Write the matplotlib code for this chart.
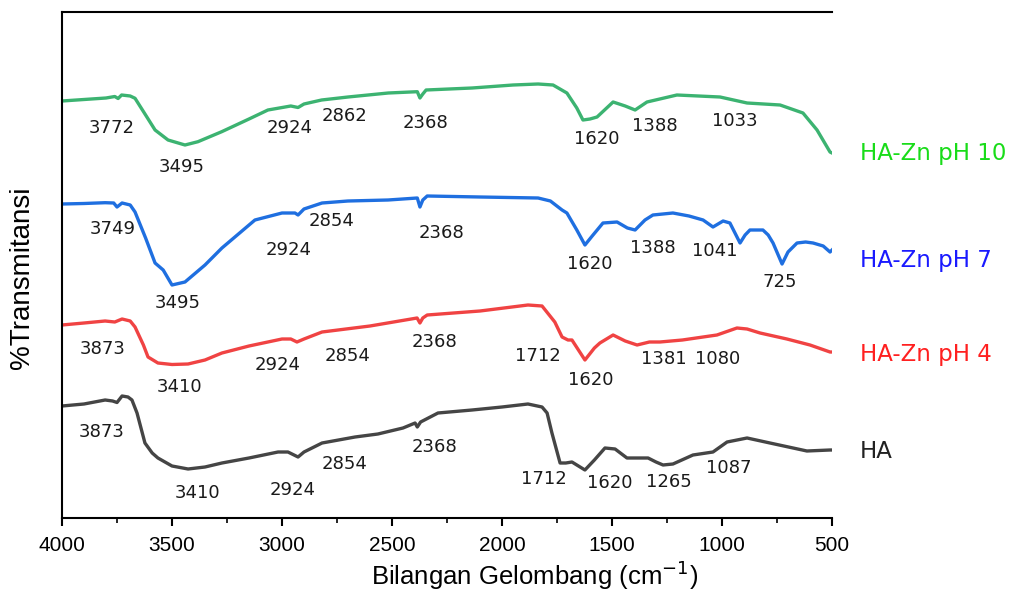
import matplotlib
matplotlib.use("Agg")
import matplotlib.pyplot as plt
from matplotlib.ticker import MultipleLocator

# ---- data (wavenumber cm^-1, transmittance a.u. with vertical offset) ----
wn_pH10 = [4000, 3900, 3800, 3760, 3745, 3729, 3690, 3668, 3620, 3577, 3518, 3441, 3382, 3274,
           3150, 3064, 2960, 2927, 2900, 2820, 2700, 2517, 2385, 2373, 2360, 2345, 2136, 1950,
           1836, 1768, 1705, 1660, 1632, 1600, 1568, 1495, 1440, 1395, 1341, 1205, 1009, 886,
           736, 632, 568, 509, 500]
t_pH10 = [417, 418.5, 420, 421.5, 419.5, 423, 422, 419.7, 403, 388, 378, 373, 376.3, 386.3,
          399, 408, 412, 410.5, 414, 418, 421, 425, 426.3, 420, 424, 428, 430, 433,
          434, 433, 425, 410, 398, 399, 401, 416, 412, 408, 416, 423, 421, 415,
          413, 405, 388, 366, 365]

wn_pH7 = [4000, 3900, 3804, 3765, 3750, 3727, 3690, 3668, 3620, 3577, 3540, 3500, 3441, 3350,
          3273, 3123, 3000, 2941, 2927, 2900, 2818, 2700, 2518, 2385, 2373, 2360, 2340, 2100,
          1836, 1780, 1727, 1705, 1660, 1623, 1590, 1541, 1477, 1430, 1395, 1350, 1314, 1223,
          1150, 1086, 1041, 995, 964, 918, 895, 873, 814, 790, 768, 727, 700, 659, 620, 586,
          540, 509, 500]
t_pH7 = [314, 314.5, 315.3, 315, 311, 315, 313, 306, 280, 255, 248, 233, 236, 253,
         270, 298, 305, 305, 303, 309, 315, 317, 318, 320, 311, 318, 322, 321,
         320, 317, 308, 305, 288, 273, 282, 295, 296, 290, 288, 298, 303, 305,
         302, 298, 291, 297, 295, 275, 283, 288, 288, 283, 275, 254, 266, 275, 276, 275,
         272, 266, 268]

wn_pH4 = [4000, 3900, 3804, 3760, 3727, 3690, 3668, 3630, 3609, 3564, 3500, 3427, 3350, 3273,
          3150, 3000, 2960, 2932, 2900, 2818, 2600, 2386, 2373, 2360, 2340, 2100, 1882, 1818,
          1760, 1727, 1700, 1682, 1623, 1580, 1555, 1495, 1440, 1386, 1330, 1282, 1180, 1086,
          1023, 932, 886, 827, 705, 600, 509, 500]
t_pH4 = [193, 195, 197, 196, 199, 197, 191, 173, 161, 155, 153.5, 154, 158, 165,
         172, 179, 179, 176, 179, 186, 192, 200, 195, 200, 203, 207, 213, 212,
         196, 181, 178, 178, 158, 170, 175, 183, 177, 173, 176, 176, 178, 181,
         183, 190, 189, 185, 179, 173, 166, 166]

wn_HA = [4000, 3900, 3804, 3770, 3750, 3727, 3700, 3682, 3659, 3623, 3590, 3564, 3500, 3427,
         3350, 3273, 3150, 3018, 2973, 2927, 2900, 2818, 2668, 2564, 2450, 2395, 2385, 2370,
         2291, 2136, 2000, 1882, 1818, 1795, 1773, 1736, 1710, 1682, 1623, 1580, 1532, 1486,
         1432, 1336, 1300, 1268, 1223, 1132, 1041, 977, 886, 782, 614, 509, 500]
t_HA = [112, 114, 118, 117, 115.5, 122, 121, 118, 105, 75, 65, 60, 52, 49,
        51, 55, 60, 66, 66, 61, 66, 75, 81, 84, 90, 95, 91, 96,
        105, 108, 111, 114, 111, 105, 85, 55, 55, 56, 48, 58, 70, 69,
        60, 60, 56, 53, 54, 63, 66, 76, 80, 75, 67, 68, 68]

# peak labels: (text, wavenumber position, y position)
peaks_pH10 = [("3772", 3773, 390), ("3495", 3455, 351), ("2924", 2964, 390), ("2862", 2714, 402),
              ("2368", 2350, 395), ("1620", 1568, 379), ("1388", 1305, 392), ("1033", 941, 397)]
peaks_pH7 = [("3749", 3768, 289), ("3495", 3473, 215), ("2924", 2968, 268), ("2854", 2773, 297),
             ("2368", 2277, 285), ("1620", 1600, 254), ("1388", 1314, 270), ("1041", 1032, 267),
             ("725", 736, 236)]
peaks_pH4 = [("3873", 3814, 169), ("3410", 3464, 131), ("2924", 3018, 153), ("2854", 2700, 162),
             ("2368", 2309, 176), ("1712", 1836, 162), ("1620", 1595, 138), ("1381", 1264, 159),
             ("1080", 1018, 159)]
peaks_HA = [("3873", 3818, 86), ("3410", 3382, 25), ("2924", 2950, 28), ("2854", 2714, 54),
            ("2368", 2309, 71), ("1712", 1809, 39), ("1620", 1509, 35), ("1265", 1241, 36),
            ("1087", 968, 50)]

series_names = ["HA-Zn pH 10", "HA-Zn pH 7", "HA-Zn pH 4", "HA"]
label_y = [365, 258, 163, 66]

# ---- styling ----
line_colors = ["#3cb371", "#1f6fe0", "#f04343", "#454545"]
label_colors = ["#19dc19", "#1a1aff", "#ff2020", "#222222"]
wide = ["DejaVu Sans"]
sans = ["Liberation Sans", "DejaVu Sans"]

fig = plt.figure(figsize=(10.30, 5.91), dpi=100)
ax = fig.add_axes([62 / 1030, 73 / 591, 770 / 1030, 506 / 591])

data = [(wn_pH10, t_pH10, peaks_pH10), (wn_pH7, t_pH7, peaks_pH7),
        (wn_pH4, t_pH4, peaks_pH4), (wn_HA, t_HA, peaks_HA)]

for (wn, t, peaks), lc, tc, name, ly in zip(data, line_colors, label_colors, series_names, label_y):
    ax.plot(wn, t, color=lc, lw=2.4, solid_joinstyle="round")
    for txt, px, py in peaks:
        ax.text(px, py, txt, ha="center", va="center", fontsize=13, family=wide, color="#1a1a1a")
    ax.text(373, ly, name, ha="left", va="center", fontsize=16.5, family=wide, color=tc,
            clip_on=False)

ax.set_xlim(4000, 500)
ax.set_ylim(0, 506)
ax.xaxis.set_major_locator(MultipleLocator(500))
ax.xaxis.set_minor_locator(MultipleLocator(250))
ax.set_yticks([])
ax.spines["right"].set_visible(False)
for s in ["left", "bottom", "top"]:
    ax.spines[s].set_linewidth(1.5)
ax.tick_params(axis="x", which="major", direction="out", length=6, width=1.5, pad=7)
ax.tick_params(axis="x", which="minor", direction="out", length=3.5, width=1.2)
for lab in ax.get_xticklabels():
    lab.set_family(sans)
    lab.set_fontsize(15)
fig.text(535 / 1030, 1 - 575 / 591, "Bilangan Gelombang (cm$^{-1}$)", fontsize=18.5,
         family=sans, ha="center", va="center")
fig.text(22 / 1030, 1 - 278 / 591, "%Transmitansi", fontsize=20, family=sans,
         ha="center", va="center", rotation=90)

fig.savefig("out.png", dpi=100)
